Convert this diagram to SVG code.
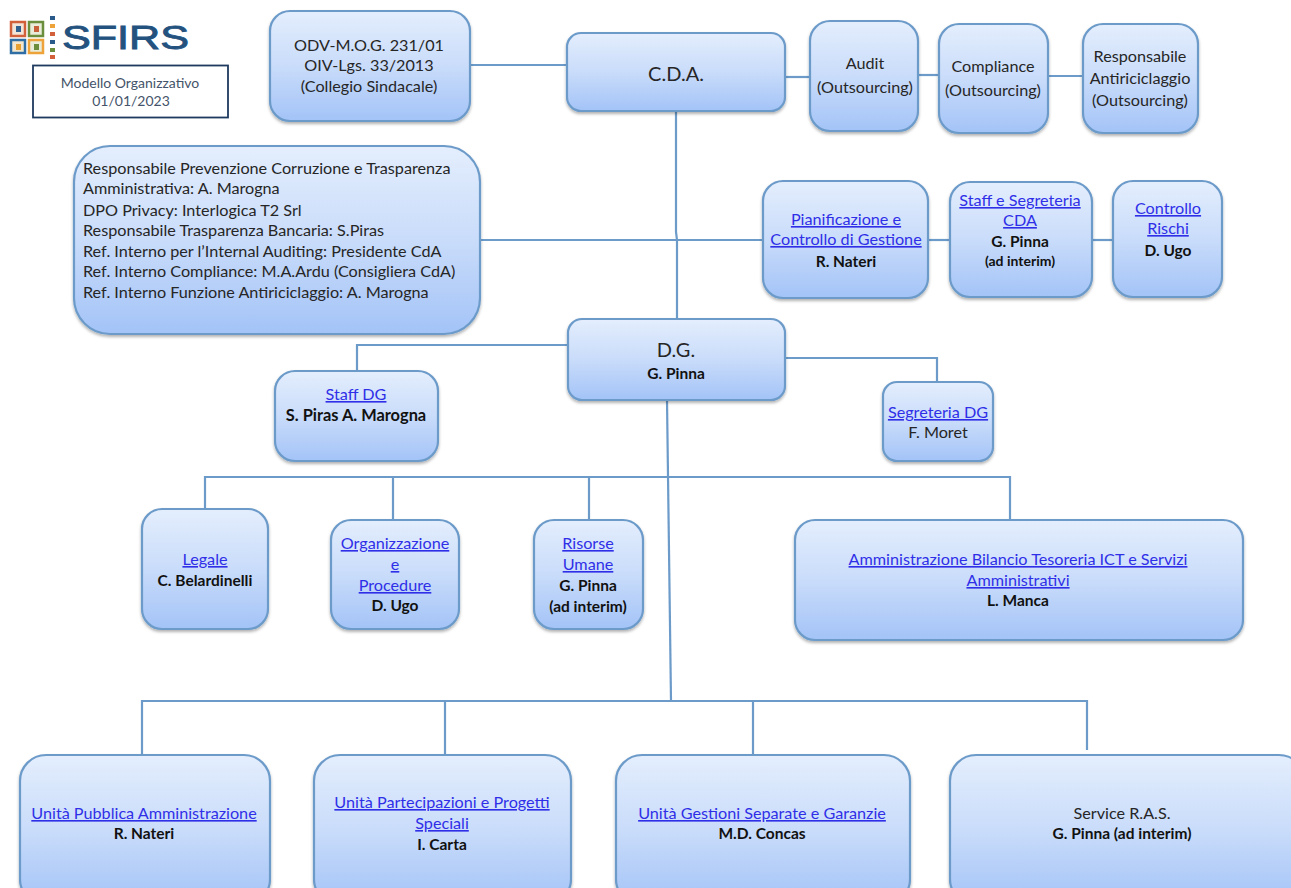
<svg xmlns="http://www.w3.org/2000/svg" width="1291" height="888" viewBox="0 0 1291 888">
<style>
text{font-family:Lato,"Liberation Sans",sans-serif;font-size:16.2px;fill:#262626;text-anchor:middle}
.n{fill:url(#g);stroke:#6c9bca;stroke-width:2.2;filter:url(#s)}
.c{fill:none;stroke:#6c9bca;stroke-width:2.2}
.l{fill:#2f2fe8;text-decoration:underline}
.b{font-weight:700;fill:#111;font-size:15.5px}
.big{font-size:20px}
.t{text-anchor:start}
.m{font-size:14px;fill:#44546a}
.i{font-size:14px}
</style>
<defs>
<linearGradient id="g" x1="0" y1="0" x2="0" y2="1"><stop offset="0" stop-color="#e4eefd"/><stop offset="0.5" stop-color="#c9dcfa"/><stop offset="1" stop-color="#a3c3f7"/></linearGradient>
<filter id="s" x="-10%" y="-10%" width="120%" height="125%"><feDropShadow dx="0" dy="2" stdDeviation="1.5" flood-color="#000" flood-opacity="0.3"/></filter>
</defs>
<g id="connectors" class="c">
<path class="c" d="M470 65H567"/>
<path class="c" d="M785 77H810"/>
<path class="c" d="M918 75H939"/>
<path class="c" d="M1048 76H1083"/>
<path class="c" d="M676 111V232L677 240V319"/>
<path class="c" d="M480 240H763"/>
<path class="c" d="M928 240H950"/>
<path class="c" d="M1092 240H1113"/>
<path class="c" d="M567 345H357V371"/>
<path class="c" d="M785 358H937V382"/>
<path class="c" d="M667 400L671 701"/>
<path class="c" d="M205 509V477H1010V520"/>
<path class="c" d="M393 477V520"/>
<path class="c" d="M589 477V520"/>
<path class="c" d="M142 755V701H1087V750"/>
<path class="c" d="M445 701V755"/>
<path class="c" d="M753 701V755"/>
</g>
<g id="logo">
<g stroke-width="2.5">
<rect x="11" y="22" width="14" height="14" stroke="#d2603a" fill="#f3e4d8"/>
<rect x="29" y="22" width="14" height="14" stroke="#6b8e3d" fill="#e8ecd8"/>
<rect x="11" y="40" width="14" height="13" stroke="#2f6ea5" fill="#f3e6cc"/>
<rect x="29" y="40" width="14" height="13" stroke="#eea33a" fill="#e8ecd8"/>
</g>
<g>
<rect x="16" y="26" width="5" height="6" fill="#2f5f8f"/><rect x="34" y="26" width="5" height="6" fill="#c8603a"/>
<rect x="16" y="44" width="5" height="6" fill="#e8a030"/><rect x="34" y="44" width="5" height="6" fill="#6b8e3d"/>
<rect x="50" y="16" width="5" height="4" fill="#2a5a8a"/><rect x="50" y="24" width="5" height="4" fill="#eea33a"/>
<rect x="50" y="32" width="5" height="4" fill="#d2603a"/><rect x="50" y="40" width="5" height="4" fill="#2a5a8a"/>
<rect x="50" y="48" width="5" height="4" fill="#6b8e3d"/><rect x="50" y="55" width="5" height="4" fill="#d2603a"/>
</g>
<text x="62" y="49" textLength="127" lengthAdjust="spacingAndGlyphs" class="t" style="font-family:'Liberation Sans',sans-serif;font-size:33px;fill:#24527f;stroke:#24527f;stroke-width:.9">SFIRS</text>
</g>
<g id="title">
<rect x="33" y="65.500" width="195" height="52" fill="#fff" stroke="#1f3a5f" stroke-width="1.800"/>
<text class="m" x="130" y="88">Modello Organizzativo</text>
<text class="m" x="131" y="106">01/01/2023</text>
</g>
<g id="odv"><rect class="n" x="270" y="11" width="200" height="110" rx="20"/>
<text x="369" y="51">ODV-M.O.G. 231/01</text><text x="369" y="71">OIV-Lgs. 33/2013</text><text x="369" y="92">(Collegio Sindacale)</text></g>
<g id="cda"><rect class="n" x="567" y="33" width="218" height="78" rx="14"/>
<text class="big" x="676" y="81">C.D.A.</text></g>
<g id="audit"><rect class="n" x="810" y="21" width="108" height="110" rx="20"/>
<text x="865" y="69">Audit</text><text x="865" y="93">(Outsourcing)</text></g>
<g id="compliance"><rect class="n" x="939" y="24" width="109" height="109" rx="20"/>
<text x="993" y="72">Compliance</text><text x="993" y="96">(Outsourcing)</text></g>
<g id="antiriciclaggio"><rect class="n" x="1083" y="24" width="115" height="109" rx="20"/>
<text x="1140" y="62">Responsabile</text><text x="1140" y="84">Antiriciclaggio</text><text x="1140" y="106">(Outsourcing)</text></g>
<g id="responsabili"><rect class="n" x="74" y="146" width="406" height="188" rx="36"/>
<text class="t" x="83" y="174">Responsabile Prevenzione Corruzione e Trasparenza</text>
<text class="t" x="83" y="194">Amministrativa: A. Marogna</text>
<text class="t" x="83" y="216">DPO Privacy: Interlogica T2 Srl</text>
<text class="t" x="83" y="236">Responsabile Trasparenza Bancaria: S.Piras</text>
<text class="t" x="83" y="257">Ref. Interno per l’Internal Auditing: Presidente CdA</text>
<text class="t" x="83" y="277">Ref. Interno Compliance: M.A.Ardu (Consigliera CdA)</text>
<text class="t" x="83" y="298">Ref. Interno Funzione Antiriciclaggio: A. Marogna</text></g>
<g id="pianificazione"><rect class="n" x="763" y="181" width="165" height="117" rx="20"/>
<text class="l" x="846" y="225">Pianificazione e</text><text class="l" x="846" y="245">Controllo di Gestione</text><text class="b" x="846" y="267">R. Nateri</text></g>
<g id="staff-cda"><rect class="n" x="950" y="182" width="142" height="115" rx="20"/>
<text class="l" x="1020" y="206">Staff e Segreteria</text><text class="l" x="1020" y="226">CDA</text><text class="b" x="1020" y="247">G. Pinna</text><text class="b i" x="1020" y="266">(ad interim)</text></g>
<g id="rischi"><rect class="n" x="1113" y="181" width="109" height="116" rx="20"/>
<text class="l" x="1168" y="214">Controllo</text><text class="l" x="1168" y="234">Rischi</text><text class="b" x="1168" y="256">D. Ugo</text></g>
<g id="dg"><rect class="n" x="568" y="319" width="217" height="81" rx="14"/>
<text class="big" x="676" y="357">D.G.</text><text class="b" x="676" y="379">G. Pinna</text></g>
<g id="staff-dg"><rect class="n" x="275" y="371" width="163" height="90" rx="20"/>
<text class="l" x="356" y="400">Staff  DG</text><text class="b" x="356" y="421" style="font-size:16.4px">S. Piras A. Marogna</text></g>
<g id="segreteria-dg"><rect class="n" x="883" y="382" width="110" height="79" rx="14"/>
<text class="l" x="938" y="418">Segreteria DG</text><text x="938" y="438">F. Moret</text></g>
<g id="legale"><rect class="n" x="142" y="509" width="126" height="120" rx="20"/>
<text class="l" x="205" y="565">Legale</text><text class="b" x="205" y="586">C. Belardinelli</text></g>
<g id="organizzazione"><rect class="n" x="331" y="520" width="128" height="109" rx="20"/>
<text class="l" x="395" y="549">Organizzazione</text><text class="l" x="395" y="570">e</text><text class="l" x="395" y="591">Procedure</text><text class="b" x="395" y="611">D. Ugo</text></g>
<g id="risorse"><rect class="n" x="534" y="520" width="109" height="109" rx="20"/>
<text class="l" x="588" y="549">Risorse</text><text class="l" x="588" y="570">Umane</text><text class="b" x="588" y="591">G. Pinna</text><text class="b" x="588" y="612">(ad interim)</text></g>
<g id="amministrazione"><rect class="n" x="795" y="520" width="448" height="120" rx="20"/>
<text class="l" x="1018" y="565">Amministrazione Bilancio Tesoreria ICT e Servizi</text><text class="l" x="1018" y="586">Amministrativi</text><text class="b" x="1018" y="606">L. Manca</text></g>
<g id="pa"><rect class="n" x="20" y="755" width="250" height="150" rx="26"/>
<text class="l" x="144" y="819">Unità Pubblica Amministrazione</text><text class="b" x="144" y="839">R. Nateri</text></g>
<g id="partecipazioni"><rect class="n" x="314" y="755" width="257" height="150" rx="26"/>
<text class="l" x="442" y="808">Unità Partecipazioni e Progetti</text><text class="l" x="442" y="829">Speciali</text><text class="b" x="442" y="850">I. Carta</text></g>
<g id="gestioni"><rect class="n" x="616" y="755" width="294" height="150" rx="26"/>
<text class="l" x="762" y="819">Unità Gestioni Separate e Garanzie</text><text class="b" x="762" y="839">M.D. Concas</text></g>
<g id="service"><rect class="n" x="950" y="755" width="355" height="150" rx="26"/>
<text x="1122" y="819">Service R.A.S.</text><text class="b" x="1122" y="839">G. Pinna (ad interim)</text></g>
</svg>
